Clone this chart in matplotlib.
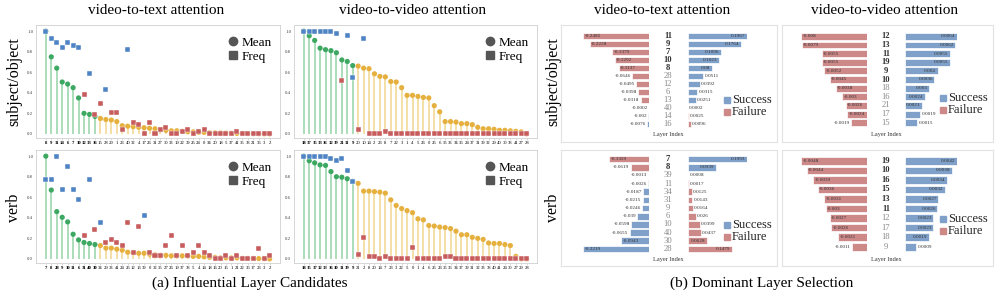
import numpy as np
import matplotlib
matplotlib.use("Agg")
import matplotlib.pyplot as plt
from matplotlib.lines import Line2D

plt.rcParams["font.family"] = ["Liberation Serif", "DejaVu Serif"]

# ---- (a) stem panels: layers sorted by mean, mean score & selection freq ----
st_v2t_labels = [8, 9, 11, 14, 6, 7, 10, 12, 13, 16, 15, 28, 29, 1, 23, 40, 32, 4, 17, 26, 31,
                 27, 30, 33, 19, 22, 39, 25, 24, 0, 34, 20, 18, 5, 37, 41, 35, 38, 21, 36, 3, 2]
st_v2t_mean = [1.0, 0.75, 0.64, 0.505, 0.485, 0.45, 0.35, 0.2, 0.19, 0.17, 0.15, 0.14, 0.135, 0.12,
               0.08, 0.075, 0.07, 0.065, 0.06, 0.055, 0.05, 0.04, 0.035, 0.03, 0.03, 0.025, 0.02,
               0.02, 0.015, 0.015, 0.01, 0.01, 0.01, 0.008, 0.006, 0.005, 0.004, 0.003, 0.002,
               0.001, 0.0005, 0.0]
st_v2t_freq = [1.0, 0.93, 0.89, 0.84, 0.89, 0.865, 0.84, 0.385, 0.59, 0.185, 0.3, 0.43, 0.205, 0.205,
               0.045, 0.82, 0.11, 0.09, 0.0, 0.11, 0.0, 0.04, 0.065, 0.0, 0.0, 0.025, 0.045, 0.0,
               0.02, 0.045, 0.0, 0.0, 0.0, 0.0, 0.0, 0.02, 0.0, 0.0, 0.0, 0.0, 0.0, 0.0]

st_v2v_labels = [18, 17, 15, 13, 16, 12, 19, 21, 11, 9, 20, 10, 14, 2, 23, 8, 7, 22, 3, 1, 4,
                 5, 26, 0, 25, 6, 35, 33, 34, 36, 24, 37, 31, 39, 32, 29, 40, 30, 38, 41, 27, 28]
st_v2v_mean = [1.0, 0.955, 0.91, 0.835, 0.82, 0.81, 0.79, 0.72, 0.705, 0.665, 0.66, 0.64, 0.635,
               0.585, 0.56, 0.555, 0.51, 0.505, 0.45, 0.375, 0.375, 0.365, 0.355, 0.35, 0.275,
               0.215, 0.12, 0.12, 0.115, 0.1, 0.1, 0.09, 0.065, 0.05, 0.05, 0.045, 0.035, 0.035,
               0.03, 0.025, 0.02, 0.0]
st_v2v_freq = [1.0, 1.0, 1.0, 1.0, 1.0, 1.0, 0.975, 0.52, 0.955, 0.545, 0.045, 0.93, 0.0, 0.0,
               0.0, 0.025, 0.0, 0.0, 0.0, 0.0, 0.0, 0.0, 0.0, 0.0, 0.0, 0.0, 0.0, 0.0, 0.0, 0.0,
               0.0, 0.0, 0.0, 0.0, 0.0, 0.0, 0.0, 0.0, 0.0, 0.0, 0.0, 0.0]

vb_v2t_labels = [7, 8, 28, 9, 10, 11, 6, 31, 40, 30, 34, 29, 33, 41, 24, 25, 12, 13, 39, 0, 32,
                 35, 27, 26, 19, 37, 38, 5, 4, 14, 18, 16, 20, 15, 1, 21, 22, 36, 17, 23, 3, 2]
vb_v2t_mean = [1.0, 0.67, 0.46, 0.405, 0.36, 0.24, 0.185, 0.16, 0.15, 0.14, 0.13, 0.105, 0.105,
               0.095, 0.085, 0.065, 0.06, 0.055, 0.055, 0.045, 0.04, 0.035, 0.035, 0.03, 0.03,
               0.03, 0.03, 0.025, 0.025, 0.02, 0.015, 0.015, 0.01, 0.01, 0.01, 0.01, 0.005,
               0.005, 0.005, 0.003, 0.002, 0.0]
vb_v2t_freq = [0.775, 0.775, 1.0, 0.68, 0.9, 0.68, 0.58, 0.225, 0.775, 0.29, 0.355, 0.16, 0.19,
               0.16, 0.13, 0.355, 0.065, 0.32, 0.42, 0.065, 0.035, 0.035, 0.13, 0.225, 0.035,
               0.13, 0.035, 0.065, 0.13, 0.065, 0.035, 0.0, 0.0, 0.035, 0.0, 0.035, 0.0, 0.0,
               0.0, 0.1, 0.0, 0.035]

vb_v2v_labels = [18, 15, 17, 12, 13, 16, 10, 11, 19, 9, 21, 2, 8, 20, 14, 7, 23, 3, 22, 5, 0,
                 1, 4, 6, 25, 26, 35, 36, 34, 37, 39, 31, 32, 33, 38, 40, 41, 24, 30, 27, 29, 28]
vb_v2v_mean = [1.0, 0.955, 0.935, 0.915, 0.91, 0.85, 0.8, 0.795, 0.78, 0.755, 0.735, 0.66, 0.66,
               0.655, 0.65, 0.64, 0.575, 0.52, 0.49, 0.47, 0.45, 0.39, 0.38, 0.325, 0.32, 0.31,
               0.305, 0.295, 0.27, 0.235, 0.235, 0.21, 0.2, 0.19, 0.155, 0.15, 0.15, 0.14, 0.13,
               0.025, 0.0, 0.0]
vb_v2v_freq = [1.0, 1.0, 1.0, 1.0, 1.0, 0.975, 0.955, 0.975, 0.86, 0.755, 0.045, 0.205, 0.025,
               0.025, 0.0, 0.025, 0.0, 0.0, 0.0, 0.0, 0.115, 0.0, 0.0, 0.0, 0.0, 0.0, 0.025,
               0.025, 0.0, 0.0, 0.0, 0.0, 0.0, 0.0, 0.0, 0.0, 0.0, 0.0, 0.0, 0.0, 0.0, 0.0]

# ---- (b) butterfly bars: per layer, Success / Failure score ----
so_v2t_layers = [11, 9, 7, 10, 8, 28, 12, 6, 13, 40, 14, 16]
so_v2t_success = [0.1967, 0.1764, 0.1096, 0.1023, 0.08, 0.0511, 0.0392, 0.0315, 0.0251,
                  -0.0002, -0.002, -0.0076]
so_v2t_failure = [-0.2485, -0.2228, -0.1379, -0.1292, -0.1137, -0.0646, -0.0495, -0.0398,
                  -0.0318, 0.0002, 0.0025, 0.0096]

so_v2v_layers = [12, 13, 11, 19, 9, 10, 18, 16, 21, 17, 15]
so_v2v_success = [0.0064, 0.0062, 0.0055, 0.0055, 0.004, 0.0036, 0.003, 0.0024, 0.0021,
                  0.0019, 0.0015]
so_v2v_failure = [-0.008, -0.0079, -0.0055, -0.0055, -0.0052, -0.0045, -0.0038, -0.003,
                  -0.0026, -0.0024, -0.0019]

vb_b_v2t_layers = [7, 8, 39, 11, 34, 31, 9, 6, 10, 40, 30, 28]
vb_b_v2t_success = [0.1993, 0.0939, -0.0013, -0.0026, -0.0187, -0.0215, -0.0246, -0.039,
                    -0.0598, -0.0655, -0.0943, -0.2219]
vb_b_v2t_failure = [-0.1329, -0.0619, 0.0008, 0.0017, 0.0125, 0.0143, 0.0164, 0.026, 0.0399,
                    0.0437, 0.0628, 0.1479]

vb_b_v2v_layers = [19, 10, 16, 15, 13, 11, 12, 17, 18, 9]
vb_b_v2v_success = [0.0042, 0.0038, 0.0034, 0.0032, 0.0027, 0.0026, 0.0023, 0.0023, 0.0019,
                    0.0009]
vb_b_v2v_failure = [-0.0048, -0.0044, -0.0039, -0.0036, -0.0031, -0.003, -0.0027, -0.0026,
                    -0.0021, -0.0011]

GREEN, GREEN_L = "#3da862", "#a6dab4"
ORANGE, ORANGE_L = "#e6b03e", "#f3dca0"
BLUE, RED = "#4f84c4", "#c75c5c"
BAR_BLUE, BAR_RED = "#7fa0c9", "#cd8888"

W, H = 997, 303
fig = plt.figure(figsize=(W / 100, H / 100), dpi=100)


def px_axes(x0, y0, x1, y1):
    return fig.add_axes([x0 / W, 1 - y1 / H, (x1 - x0) / W, (y1 - y0) / H])


def px_text(x, y, s, **kw):
    fig.text(x / W, 1 - y / H, s, **kw)


def stem_panel(box, labels, mean, freq):
    ax = px_axes(*box)
    mean = np.array(mean); freq = np.array(freq)
    x = np.arange(len(labels))
    top_m = np.isin(x, np.argsort(-mean, kind="stable")[:10])
    top_f = np.isin(x, np.argsort(-freq, kind="stable")[:10])
    ax.vlines(x, 0, mean, colors=np.where(top_m, GREEN_L, ORANGE_L), lw=1.3, zorder=1)
    ax.scatter(x, mean, s=14, c=np.where(top_m, GREEN, ORANGE), marker="o", lw=0, zorder=3)
    ax.scatter(x, freq, s=13, c=np.where(top_f, BLUE, RED), marker="s",
               edgecolors="white", lw=0.3, zorder=4)
    ax.set_xlim(-1.8, len(x) + 0.9)
    ax.set_ylim(-0.04, 1.06)
    ax.set_yticks(np.arange(0, 1.01, 0.2))
    ax.set_yticklabels([f"{v:.1f}" for v in np.arange(0, 1.01, 0.2)], fontsize=3.5)
    ax.set_xticks(x)
    ax.set_xticklabels([str(l) for l in labels], fontsize=3.4)
    for i, t in enumerate(ax.get_xticklabels()):
        if i < 10:
            t.set_fontweight("bold")
    ax.tick_params(axis="x", length=1.2, width=0.4, pad=1, color="#bbbbbb")
    ax.tick_params(axis="y", length=0, pad=2, labelcolor="#444444")
    for sp in ax.spines.values():
        sp.set_color("#d0d0d0"); sp.set_linewidth(0.6)
    handles = [Line2D([], [], marker="o", ls="none", color="#555555", markersize=6),
               Line2D([], [], marker="s", ls="none", color="#555555", markersize=5.5)]
    ax.legend(handles, ["Mean", "Freq"], loc="upper right", bbox_to_anchor=(1.0, 0.97),
              frameon=False, fontsize=9.5, handlelength=0.8, handletextpad=0.3,
              labelspacing=0.15, borderaxespad=0.2)
    return ax


def fmt(v):
    return f"{v:.4f}".rstrip("0").rstrip(".")


def bar_panel(box, lx, rx, cx, ry, layers, success, failure, n_bold, leg):
    frame = px_axes(*box)
    frame.set_xticks([]); frame.set_yticks([])
    for sp in frame.spines.values():
        sp.set_color("#e2e2e2"); sp.set_linewidth(0.8)
    s = np.array(success); f = np.array(failure)
    n = len(layers)
    y = np.arange(n)
    neg = np.minimum(s, f); pos = np.maximum(s, f)
    neg_c = np.where(s < f, BAR_BLUE, BAR_RED)
    pos_c = np.where(s >= f, BAR_BLUE, BAR_RED)
    for ax, xs, vals, cols, vmax, sign in [
            (px_axes(lx[0], ry[0], lx[1], ry[1]), lx, neg, neg_c, -neg.min(), -1),
            (px_axes(rx[0], ry[0], rx[1], ry[1]), rx, pos, pos_c, pos.max(), 1)]:
        ax.barh(y, vals, height=0.8, color=cols, edgecolor="white", lw=0.5)
        ax.set_ylim(n - 0.5, -0.5)
        ax.set_xlim(*((-vmax, 0) if sign < 0 else (0, vmax)))
        ax.axis("off")
        width_px = xs[1] - xs[0]
        for i, v in enumerate(vals):
            lab = fmt(v)
            inside = abs(v) / vmax * width_px > len(lab) * 2.8
            if sign < 0:
                off, ha = (1.0, "left") if inside else (-0.8, "right")
            else:
                off, ha = (-1.0, "right") if inside else (0.8, "left")
            ax.annotate(lab, (v, i), xytext=(off, 0), textcoords="offset points",
                        ha=ha, va="center", fontsize=3.8, color="#333333")
    step = (ry[1] - ry[0]) / n
    for i, l in enumerate(layers):
        bold = i < n_bold
        px_text(cx, ry[0] + step * (i + 0.5), str(l), ha="center", va="center", fontsize=6.2,
                fontweight="bold" if bold else "normal",
                color="#333333" if bold else "#8a8a8a")
    px_text(cx, box[3] - 7, "Layer Index", ha="center", va="center", fontsize=4.5,
            color="#333333")
    for j, (name, c) in enumerate([("Success", BAR_BLUE), ("Failure", BAR_RED)]):
        yy = leg[1] + j * 12
        fig.add_artist(Line2D([leg[0] / W], [1 - yy / H], marker="s", ls="none",
                              color=c, markersize=4, transform=fig.transFigure))
        px_text(leg[0] + 5, yy, name, ha="left", va="center", fontsize=9, color="#222222")


stem_panel((36, 25, 280, 138), st_v2t_labels, st_v2t_mean, st_v2t_freq)
stem_panel((294, 25, 537, 138), st_v2v_labels, st_v2v_mean, st_v2v_freq)
stem_panel((36, 150, 280, 263), vb_v2t_labels, vb_v2t_mean, vb_v2t_freq)
stem_panel((294, 150, 537, 263), vb_v2v_labels, vb_v2v_mean, vb_v2v_freq)

bar_panel((561, 25, 777, 142), (583, 649), (688, 747), 668, (31.7, 128.3),
          so_v2t_layers, so_v2t_success, so_v2t_failure, 5, (727, 100))
bar_panel((782, 25, 993, 142), (801, 867), (905, 957), 886, (32, 127),
          so_v2v_layers, so_v2v_success, so_v2v_failure, 6, (943, 98))
bar_panel((561, 150, 777, 266), (583, 649), (688, 747), 668, (155, 253),
          vb_b_v2t_layers, vb_b_v2t_success, vb_b_v2t_failure, 2, (727, 225))
bar_panel((782, 150, 993, 266), (801, 867), (905, 957), 886, (156, 251.5),
          vb_b_v2v_layers, vb_b_v2v_success, vb_b_v2v_failure, 6, (943, 219))

# titles, row labels, captions
for x, t in [(156, "video-to-text attention"), (413, "video-to-video attention"),
             (662, "video-to-text attention"), (885, "video-to-video attention")]:
    px_text(x, 10, t, ha="center", va="center", fontsize=11)
for x in (14, 553):
    px_text(x, 82, "subject/object", ha="center", va="center", rotation=90, fontsize=11.5)
    px_text(x, 208, "verb", ha="center", va="center", rotation=90, fontsize=11.5)
px_text(250, 283, "(a) Influential Layer Candidates", ha="center", va="center", fontsize=11)
px_text(762, 283, "(b) Dominant Layer Selection", ha="center", va="center", fontsize=11)

fig.savefig("out.png", dpi=100)
